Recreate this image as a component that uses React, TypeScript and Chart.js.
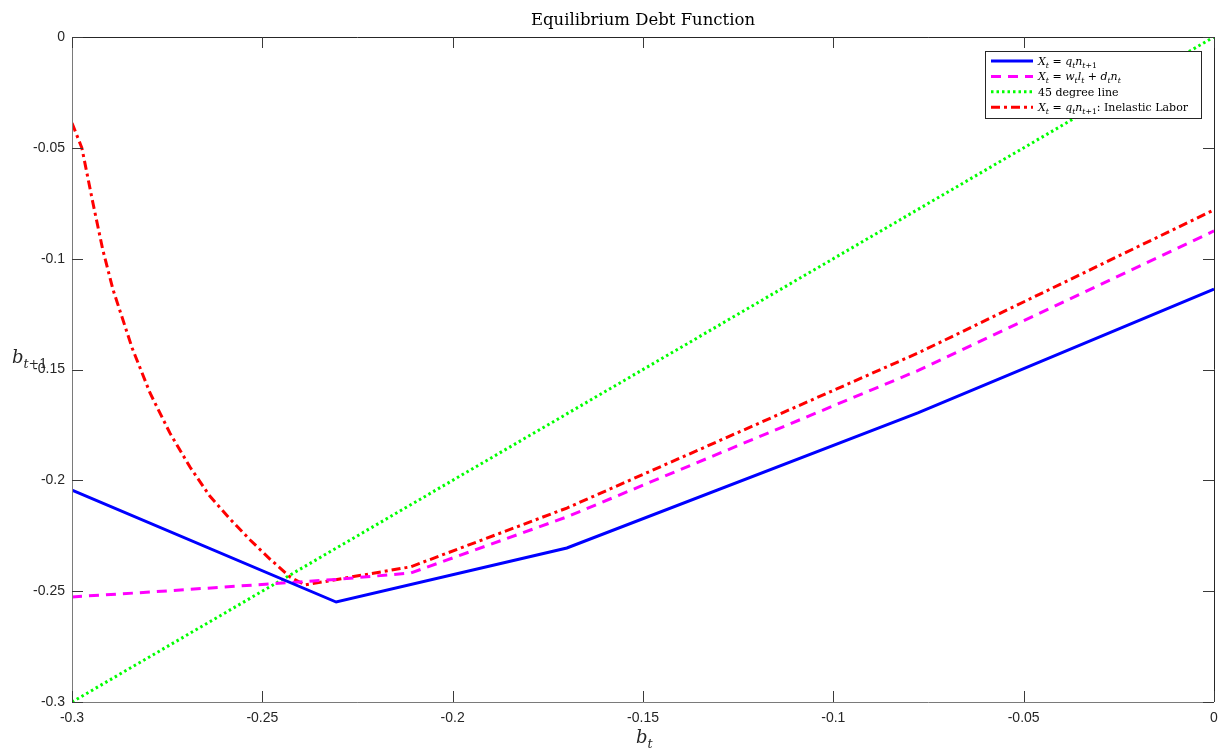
import React, { useEffect, useRef } from "react";
import { Chart, registerables } from "chart.js";

Chart.register(...registerables);

// ---------- data ----------
const blueX = [-0.3, -0.2306, -0.17, -0.0778, 0];
const blueY = [-0.2044, -0.2549, -0.2305, -0.1696, -0.1137];

const magentaX = [-0.3, -0.2795, -0.2306, -0.211, -0.17, -0.0778, 0];
const magentaY = [-0.2526, -0.2504, -0.2447, -0.2418, -0.2165, -0.1505, -0.0875];

const greenX = [-0.3, 0];
const greenY = [-0.3, 0];

const redX = [
  -0.3, -0.2974, -0.2945, -0.2919, -0.2892, -0.2842, -0.2795, -0.2743, -0.269,
  -0.2638, -0.2585, -0.2532, -0.248, -0.2427, -0.2388, -0.211, -0.17, -0.0778, 0,
];
const redY = [
  -0.0388, -0.0501, -0.0749, -0.0961, -0.1141, -0.1403, -0.1606, -0.1786, -0.194,
  -0.2071, -0.2174, -0.2269, -0.2355, -0.2436, -0.2472, -0.239, -0.2125, -0.1426, -0.078,
];

const xTicks = [-0.3, -0.25, -0.2, -0.15, -0.1, -0.05, 0];
const yTicks = [-0.3, -0.25, -0.2, -0.15, -0.1, -0.05, 0];

const titleText = "Equilibrium Debt Function";

type Seg = { t: string; it?: boolean; sub?: boolean };
const legendRows: { label: Seg[]; color: string; dash: number[] }[] = [
  {
    label: [
      { t: "X", it: true }, { t: "t", it: true, sub: true }, { t: " = " },
      { t: "q", it: true }, { t: "t", it: true, sub: true }, { t: "n", it: true },
      { t: "t", it: true, sub: true }, { t: "+1", sub: true },
    ],
    color: "#0000ff",
    dash: [],
  },
  {
    label: [
      { t: "X", it: true }, { t: "t", it: true, sub: true }, { t: " = " },
      { t: "w", it: true }, { t: "t", it: true, sub: true }, { t: "l", it: true },
      { t: "t", it: true, sub: true }, { t: " + " }, { t: "d", it: true },
      { t: "t", it: true, sub: true }, { t: "n", it: true }, { t: "t", it: true, sub: true },
    ],
    color: "#ff00ff",
    dash: [10, 7],
  },
  { label: [{ t: "45 degree line" }], color: "#00ff00", dash: [2.5, 3] },
  {
    label: [
      { t: "X", it: true }, { t: "t", it: true, sub: true }, { t: " = " },
      { t: "q", it: true }, { t: "t", it: true, sub: true }, { t: "n", it: true },
      { t: "t", it: true, sub: true }, { t: "+1", sub: true }, { t: ": Inelastic Labor" },
    ],
    color: "#ff0000",
    dash: [9, 4, 3, 4],
  },
];

const SERIF = '"DejaVu Serif", "Liberation Serif", serif';

function drawMath(ctx: CanvasRenderingContext2D, segs: Seg[], x: number, y: number, size: number) {
  let cx = x;
  ctx.textBaseline = "alphabetic";
  ctx.textAlign = "left";
  for (const s of segs) {
    const fs = s.sub ? size * 0.7 : size;
    ctx.font = `${s.it ? "italic " : ""}${fs}px ${SERIF}`;
    const yy = s.sub ? y + size * 0.25 : y;
    ctx.fillText(s.t, cx, yy);
    cx += ctx.measureText(s.t).width;
  }
}

const fmt = (v: number) => String(Math.round(v * 100) / 100);

const decorPlugin = {
  id: "decor",
  afterDraw(chart: any) {
    const { ctx, chartArea } = chart;
    const { left, right, top, bottom } = chartArea;
    const xs = chart.scales.x;
    const ys = chart.scales.y;
    ctx.save();
    // box
    ctx.lineWidth = 1;
    ctx.strokeStyle = "#262626";
    ctx.beginPath();
    ctx.moveTo(left, top + 0.5);
    ctx.lineTo(right + 0.5, top + 0.5);
    ctx.lineTo(right + 0.5, bottom);
    ctx.stroke();
    ctx.strokeStyle = "#7a7a7a";
    ctx.beginPath();
    ctx.moveTo(left + 0.5, top);
    ctx.lineTo(left + 0.5, bottom + 0.5);
    ctx.lineTo(right, bottom + 0.5);
    ctx.stroke();
    // inward ticks
    const tl = 11;
    ctx.strokeStyle = "#3a3a3a";
    ctx.beginPath();
    for (const v of xTicks) {
      const px = Math.round(xs.getPixelForValue(v)) + 0.5;
      ctx.moveTo(px, bottom);
      ctx.lineTo(px, bottom - tl);
      ctx.moveTo(px, top);
      ctx.lineTo(px, top + tl);
    }
    for (const v of yTicks) {
      const py = Math.round(ys.getPixelForValue(v)) + 0.5;
      ctx.moveTo(left, py);
      ctx.lineTo(left + tl, py);
      ctx.moveTo(right, py);
      ctx.lineTo(right - tl, py);
    }
    ctx.stroke();

    // title
    ctx.fillStyle = "#000";
    ctx.font = `16.5px ${SERIF}`;
    ctx.textAlign = "center";
    ctx.textBaseline = "alphabetic";
    ctx.fillText(titleText, (left + right) / 2, 25);

    // axis labels
    ctx.fillStyle = "#262626";
    drawMath(ctx, [{ t: "b", it: true }, { t: "t", it: true, sub: true }], 636, 743, 18);
    drawMath(ctx, [{ t: "b", it: true }, { t: "t", it: true, sub: true }, { t: "+1", sub: true }], 12, 363, 18);

    // legend
    const lx = 985.5, ly = 51.5, lw = 216, lh = 67;
    ctx.fillStyle = "#fff";
    ctx.fillRect(lx, ly, lw, lh);
    ctx.strokeStyle = "#262626";
    ctx.lineWidth = 1;
    ctx.strokeRect(lx, ly, lw, lh);
    legendRows.forEach((r, i) => {
      const ry = 61 + i * 15.4;
      ctx.strokeStyle = r.color;
      ctx.lineWidth = 3;
      ctx.setLineDash(r.dash);
      ctx.beginPath();
      ctx.moveTo(991, ry);
      ctx.lineTo(1033, ry);
      ctx.stroke();
      ctx.setLineDash([]);
      ctx.fillStyle = "#000";
      drawMath(ctx, r.label, 1038, ry + 4, 11);
    });
    ctx.restore();
  },
};

function pts(xs: number[], ys: number[]) {
  return xs.map((x, i) => ({ x, y: ys[i] }));
}

export default function App() {
  const ref = useRef<HTMLCanvasElement | null>(null);
  useEffect(() => {
    if (!ref.current) return;
    const tickFont = { family: '"Liberation Sans", Arial, sans-serif', size: 14 };
    const chart = new Chart(ref.current, {
      type: "scatter",
      data: {
        datasets: [
          { data: pts(blueX, blueY), borderColor: "#0000ff", borderWidth: 3, showLine: true, pointRadius: 0 },
          { data: pts(magentaX, magentaY), borderColor: "#ff00ff", borderWidth: 3, borderDash: [10, 7], showLine: true, pointRadius: 0 },
          { data: pts(greenX, greenY), borderColor: "#00ff00", borderWidth: 3, borderDash: [2.5, 3], showLine: true, pointRadius: 0 },
          { data: pts(redX, redY), borderColor: "#ff0000", borderWidth: 3, borderDash: [9, 4, 3, 4], showLine: true, pointRadius: 0 },
        ] as any,
      },
      options: {
        responsive: false,
        devicePixelRatio: 1,
        animation: false,
        layout: { padding: { top: 37, right: 7, left: 0, bottom: 0 } },
        plugins: { legend: { display: false }, title: { display: false }, tooltip: { enabled: false } },
        scales: {
          x: {
            type: "linear",
            min: -0.3,
            max: 0,
            grid: { display: false, drawTicks: false },
            border: { display: false },
            afterBuildTicks: (axis: any) => { axis.ticks = xTicks.map((v) => ({ value: v })); },
            afterFit: (axis: any) => { axis.height = 47; axis.paddingLeft = 0; axis.paddingRight = 0; },
            ticks: { font: tickFont, color: "#262626", padding: 8, maxRotation: 0, autoSkip: false, callback: (v: any) => fmt(Number(v)) },
          },
          y: {
            type: "linear",
            min: -0.3,
            max: 0,
            grid: { display: false, drawTicks: false },
            border: { display: false },
            afterBuildTicks: (axis: any) => { axis.ticks = yTicks.map((v) => ({ value: v })); },
            afterFit: (axis: any) => { axis.width = 72; axis.paddingTop = 0; axis.paddingBottom = 0; },
            ticks: { font: tickFont, color: "#262626", padding: 7, autoSkip: false, callback: (v: any) => fmt(Number(v)) },
          },
        },
      } as any,
      plugins: [decorPlugin],
    });
    return () => chart.destroy();
  }, []);
  return (
    <div style={{ position: "absolute", left: 0, top: 0, width: 1221, height: 749, background: "#fff" }}>
      <canvas ref={ref} width={1221} height={749} style={{ display: "block", width: 1221, height: 749 }} />
    </div>
  );
}
